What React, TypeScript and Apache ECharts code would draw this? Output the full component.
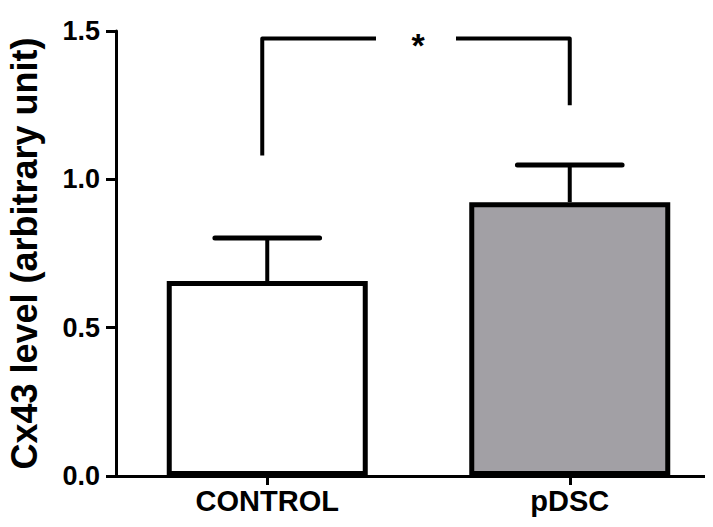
import React, { useEffect, useRef } from "react";
import * as echarts from "echarts";

const categories = ["CONTROL", "pDSC"];
const means = [0.657, 0.923];
const errors = [0.145, 0.125];
const barColors = ["#ffffff", "#a2a0a5"];
const yTicks = [0, 0.5, 1.0, 1.5];
const sigPair = [0, 1];
const sigY = 1.475;
const sigLegEnds = [1.08, 1.25];
const sigLabel = "*";
const yName = "Cx43 level (arbitrary unit)";

const FONT = "'Liberation Sans', Arial, Helvetica, sans-serif";

export default function App() {
  const ref = useRef<HTMLDivElement>(null);
  useEffect(() => {
    if (!ref.current) return;
    const chart = echarts.init(ref.current, undefined, { renderer: "svg" });
    const option: any = {
      animation: false,
      backgroundColor: "#ffffff",
      grid: {
        left: 116,
        right: -8,
        top: 31,
        bottom: 51,
        containLabel: false,
        outerBoundsMode: "none",
      },
      xAxis: {
        type: "category",
        data: categories,
        axisLine: { show: true, lineStyle: { color: "#000", width: 3 } },
        axisTick: {
          show: true,
          alignWithLabel: true,
          length: 9,
          lineStyle: { color: "#000", width: 3 },
        },
        axisLabel: {
          color: "#000",
          fontFamily: FONT,
          fontWeight: "bold",
          fontSize: 29,
          margin: 10,
        },
        splitLine: { show: false },
      },
      yAxis: {
        type: "value",
        min: yTicks[0],
        max: yTicks[yTicks.length - 1],
        interval: 0.5,
        name: yName,
        nameLocation: "middle",
        nameGap: 74,
        nameRotate: 90,
        nameTextStyle: {
          color: "#000",
          fontFamily: FONT,
          fontWeight: "bold",
          fontSize: 36,
        },
        axisLine: { show: true, lineStyle: { color: "#000", width: 3 } },
        axisTick: { show: true, length: 10, lineStyle: { color: "#000", width: 3 } },
        axisLabel: {
          color: "#000",
          fontFamily: FONT,
          fontWeight: "bold",
          fontSize: 27,
          margin: 16,
          formatter: (v: number) => v.toFixed(1),
        },
        splitLine: { show: false },
      },
      series: [
        {
          type: "bar",
          barWidth: 201,
          data: means.map((m, i) => ({
            value: m,
            itemStyle: { color: barColors[i] },
          })),
          itemStyle: { borderColor: "#000", borderWidth: 5 },
          z: 2,
        },
        {
          type: "custom",
          z: 3,
          clip: false,
          data: means.map((m, i) => [i, m, errors[i]]),
          renderItem: (params: any, api: any) => {
            const x = api.value(0);
            const m = api.value(1);
            const e = api.value(2);
            const base = api.coord([x, m]);
            const top = api.coord([x, m + e]);
            const half = api.size([1, 0])[0] * 0.173;
            return {
              type: "group",
              children: [
                {
                  type: "line",
                  shape: { x1: top[0], y1: base[1], x2: top[0], y2: top[1] },
                  style: { stroke: "#000", lineWidth: 4 },
                },
                {
                  type: "line",
                  shape: { x1: top[0] - half, y1: top[1], x2: top[0] + half, y2: top[1] },
                  style: { stroke: "#000", lineWidth: 5, lineCap: "round" },
                },
              ],
            };
          },
        },
        {
          type: "custom",
          z: 3,
          clip: false,
          data: [[sigPair[0], sigPair[1], sigY, sigLegEnds[0], sigLegEnds[1]]],
          renderItem: (params: any, api: any) => {
            const a = api.value(0);
            const b = api.value(1);
            const y = api.value(2);
            const pA = api.coord([a, y]);
            const pB = api.coord([b, y]);
            const endA = api.coord([a, api.value(3)]);
            const endB = api.coord([b, api.value(4)]);
            const xA = pA[0] - 5;
            const mid = (xA + pB[0]) / 2;
            const gap = 40;
            return {
              type: "group",
              children: [
                {
                  type: "polyline",
                  shape: { points: [[xA, endA[1]], [xA, pA[1]], [mid - gap, pA[1]]] },
                  style: { stroke: "#000", lineWidth: 4, fill: "none", lineJoin: "round" },
                },
                {
                  type: "polyline",
                  shape: { points: [[mid + gap, pB[1]], [pB[0], pB[1]], [pB[0], endB[1]]] },
                  style: { stroke: "#000", lineWidth: 4, fill: "none", lineJoin: "round" },
                },
                {
                  type: "text",
                  x: mid + 2,
                  y: pA[1] + 7,
                  style: {
                    text: sigLabel,
                    fill: "#000",
                    font: `bold 34px ${FONT}`,
                    align: "center",
                    verticalAlign: "middle",
                  },
                },
              ],
            };
          },
        },
      ],
    };
    chart.setOption(option);
    return () => chart.dispose();
  }, []);
  return <div ref={ref} style={{ width: 713, height: 527, margin: -8 }} />;
}
